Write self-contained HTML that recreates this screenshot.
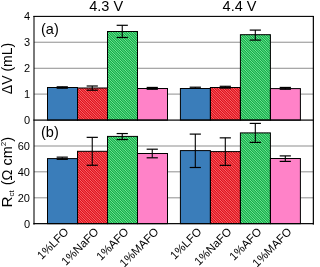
<!DOCTYPE html><html><head><meta charset="utf-8"><style>html,body{margin:0;padding:0;background:#fff;overflow:hidden}svg{display:block;will-change:transform}</style></head><body>
<svg width="315" height="267" viewBox="0 0 315 267" font-family='"Liberation Sans", sans-serif'>
<defs>
<pattern id="pBlue" patternUnits="userSpaceOnUse" width="4" height="4"><rect width="4" height="4" fill="#3a7dba"/></pattern>
<pattern id="pRed" patternUnits="userSpaceOnUse" width="1.6" height="3" patternTransform="rotate(-45)"><rect width="1.6" height="3" fill="#e0101c"/><rect width="0.65" height="3" fill="#f88888"/></pattern>
<pattern id="pGreen" patternUnits="userSpaceOnUse" width="1.6" height="3" patternTransform="rotate(-45)"><rect width="1.6" height="3" fill="#0ca442"/><rect width="0.65" height="3" fill="#7fdfa0"/></pattern>
<pattern id="pPink" patternUnits="userSpaceOnUse" width="4" height="4"><rect width="4" height="4" fill="#ff82c8"/></pattern>
</defs>
<rect width="315" height="267" fill="#fff"/>
<rect x="34" y="41.7" width="279" height="1.1" fill="#999999"/>
<rect x="34" y="67.75" width="279" height="1.1" fill="#999999"/>
<rect x="34" y="93.55" width="279" height="1.1" fill="#999999"/>
<rect x="34" y="145.45" width="279" height="1.1" fill="#999999"/>
<rect x="34" y="171.25" width="279" height="1.1" fill="#999999"/>
<rect x="34" y="197.25" width="279" height="1.1" fill="#999999"/>
<rect x="47.5" y="87.5" width="30" height="32.6" fill="#3a7dba"/>
<rect x="77.5" y="88" width="30" height="32.1" fill="#e3101c"/>
<rect x="107.5" y="31.5" width="30" height="88.6" fill="#14b34a"/>
<rect x="137.5" y="88.5" width="30" height="31.6" fill="#ff82c8"/>
<rect x="180.4" y="88.5" width="30" height="31.6" fill="#3a7dba"/>
<rect x="210.4" y="87.5" width="30" height="32.6" fill="#e3101c"/>
<rect x="240.4" y="34.7" width="30" height="85.4" fill="#14b34a"/>
<rect x="270.4" y="88.6" width="30" height="31.5" fill="#ff82c8"/>
<rect x="47.5" y="158.6" width="30" height="65.05" fill="#3a7dba"/>
<rect x="77.5" y="151.3" width="30" height="72.35" fill="#e3101c"/>
<rect x="107.5" y="136.4" width="30" height="87.25" fill="#14b34a"/>
<rect x="137.5" y="153.5" width="30" height="70.15" fill="#ff82c8"/>
<rect x="180.4" y="150.6" width="30" height="73.05" fill="#3a7dba"/>
<rect x="210.4" y="151.6" width="30" height="72.05" fill="#e3101c"/>
<rect x="240.4" y="132.9" width="30" height="90.75" fill="#14b34a"/>
<rect x="270.4" y="158.5" width="30" height="65.15" fill="#ff82c8"/>
<clipPath id="cR"><rect x="77.5" y="88" width="30" height="32.1"/><rect x="210.4" y="87.5" width="30" height="32.6"/><rect x="77.5" y="151.3" width="30" height="72.35"/><rect x="210.4" y="151.6" width="30" height="72.05"/></clipPath>
<path clip-path="url(#cR)" d="M-300.000 0L0.000 300M-297.500 0L2.500 300M-295.000 0L5.000 300M-292.500 0L7.500 300M-290.000 0L10.000 300M-287.500 0L12.500 300M-285.000 0L15.000 300M-282.500 0L17.500 300M-280.000 0L20.000 300M-277.500 0L22.500 300M-275.000 0L25.000 300M-272.500 0L27.500 300M-270.000 0L30.000 300M-267.500 0L32.500 300M-265.000 0L35.000 300M-262.500 0L37.500 300M-260.000 0L40.000 300M-257.500 0L42.500 300M-255.000 0L45.000 300M-252.500 0L47.500 300M-250.000 0L50.000 300M-247.500 0L52.500 300M-245.000 0L55.000 300M-242.500 0L57.500 300M-240.000 0L60.000 300M-237.500 0L62.500 300M-235.000 0L65.000 300M-232.500 0L67.500 300M-230.000 0L70.000 300M-227.500 0L72.500 300M-225.000 0L75.000 300M-222.500 0L77.500 300M-220.000 0L80.000 300M-217.500 0L82.500 300M-215.000 0L85.000 300M-212.500 0L87.500 300M-210.000 0L90.000 300M-207.500 0L92.500 300M-205.000 0L95.000 300M-202.500 0L97.500 300M-200.000 0L100.000 300M-197.500 0L102.500 300M-195.000 0L105.000 300M-192.500 0L107.500 300M-190.000 0L110.000 300M-187.500 0L112.500 300M-185.000 0L115.000 300M-182.500 0L117.500 300M-180.000 0L120.000 300M-177.500 0L122.500 300M-175.000 0L125.000 300M-172.500 0L127.500 300M-170.000 0L130.000 300M-167.500 0L132.500 300M-165.000 0L135.000 300M-162.500 0L137.500 300M-160.000 0L140.000 300M-157.500 0L142.500 300M-155.000 0L145.000 300M-152.500 0L147.500 300M-150.000 0L150.000 300M-147.500 0L152.500 300M-145.000 0L155.000 300M-142.500 0L157.500 300M-140.000 0L160.000 300M-137.500 0L162.500 300M-135.000 0L165.000 300M-132.500 0L167.500 300M-130.000 0L170.000 300M-127.500 0L172.500 300M-125.000 0L175.000 300M-122.500 0L177.500 300M-120.000 0L180.000 300M-117.500 0L182.500 300M-115.000 0L185.000 300M-112.500 0L187.500 300M-110.000 0L190.000 300M-107.500 0L192.500 300M-105.000 0L195.000 300M-102.500 0L197.500 300M-100.000 0L200.000 300M-97.500 0L202.500 300M-95.000 0L205.000 300M-92.500 0L207.500 300M-90.000 0L210.000 300M-87.500 0L212.500 300M-85.000 0L215.000 300M-82.500 0L217.500 300M-80.000 0L220.000 300M-77.500 0L222.500 300M-75.000 0L225.000 300M-72.500 0L227.500 300M-70.000 0L230.000 300M-67.500 0L232.500 300M-65.000 0L235.000 300M-62.500 0L237.500 300M-60.000 0L240.000 300M-57.500 0L242.500 300M-55.000 0L245.000 300M-52.500 0L247.500 300M-50.000 0L250.000 300M-47.500 0L252.500 300M-45.000 0L255.000 300M-42.500 0L257.500 300M-40.000 0L260.000 300M-37.500 0L262.500 300M-35.000 0L265.000 300M-32.500 0L267.500 300M-30.000 0L270.000 300M-27.500 0L272.500 300M-25.000 0L275.000 300M-22.500 0L277.500 300M-20.000 0L280.000 300M-17.500 0L282.500 300M-15.000 0L285.000 300M-12.500 0L287.500 300M-10.000 0L290.000 300M-7.500 0L292.500 300M-5.000 0L295.000 300M-2.500 0L297.500 300M0.000 0L300.000 300M2.500 0L302.500 300M5.000 0L305.000 300M7.500 0L307.500 300M10.000 0L310.000 300M12.500 0L312.500 300M15.000 0L315.000 300M17.500 0L317.500 300M20.000 0L320.000 300M22.500 0L322.500 300M25.000 0L325.000 300M27.500 0L327.500 300M30.000 0L330.000 300M32.500 0L332.500 300M35.000 0L335.000 300M37.500 0L337.500 300M40.000 0L340.000 300M42.500 0L342.500 300M45.000 0L345.000 300M47.500 0L347.500 300M50.000 0L350.000 300M52.500 0L352.500 300M55.000 0L355.000 300M57.500 0L357.500 300M60.000 0L360.000 300M62.500 0L362.500 300M65.000 0L365.000 300M67.500 0L367.500 300M70.000 0L370.000 300M72.500 0L372.500 300M75.000 0L375.000 300M77.500 0L377.500 300M80.000 0L380.000 300M82.500 0L382.500 300M85.000 0L385.000 300M87.500 0L387.500 300M90.000 0L390.000 300M92.500 0L392.500 300M95.000 0L395.000 300M97.500 0L397.500 300M100.000 0L400.000 300M102.500 0L402.500 300M105.000 0L405.000 300M107.500 0L407.500 300M110.000 0L410.000 300M112.500 0L412.500 300M115.000 0L415.000 300M117.500 0L417.500 300M120.000 0L420.000 300M122.500 0L422.500 300M125.000 0L425.000 300M127.500 0L427.500 300M130.000 0L430.000 300M132.500 0L432.500 300M135.000 0L435.000 300M137.500 0L437.500 300M140.000 0L440.000 300M142.500 0L442.500 300M145.000 0L445.000 300M147.500 0L447.500 300M150.000 0L450.000 300M152.500 0L452.500 300M155.000 0L455.000 300M157.500 0L457.500 300M160.000 0L460.000 300M162.500 0L462.500 300M165.000 0L465.000 300M167.500 0L467.500 300M170.000 0L470.000 300M172.500 0L472.500 300M175.000 0L475.000 300M177.500 0L477.500 300M180.000 0L480.000 300M182.500 0L482.500 300M185.000 0L485.000 300M187.500 0L487.500 300M190.000 0L490.000 300M192.500 0L492.500 300M195.000 0L495.000 300M197.500 0L497.500 300M200.000 0L500.000 300M202.500 0L502.500 300M205.000 0L505.000 300M207.500 0L507.500 300M210.000 0L510.000 300M212.500 0L512.500 300M215.000 0L515.000 300M217.500 0L517.500 300M220.000 0L520.000 300M222.500 0L522.500 300M225.000 0L525.000 300M227.500 0L527.500 300M230.000 0L530.000 300M232.500 0L532.500 300M235.000 0L535.000 300M237.500 0L537.500 300M240.000 0L540.000 300M242.500 0L542.500 300M245.000 0L545.000 300M247.500 0L547.500 300M250.000 0L550.000 300M252.500 0L552.500 300M255.000 0L555.000 300M257.500 0L557.500 300M260.000 0L560.000 300M262.500 0L562.500 300M265.000 0L565.000 300M267.500 0L567.500 300M270.000 0L570.000 300M272.500 0L572.500 300M275.000 0L575.000 300M277.500 0L577.500 300M280.000 0L580.000 300M282.500 0L582.500 300M285.000 0L585.000 300M287.500 0L587.500 300M290.000 0L590.000 300M292.500 0L592.500 300M295.000 0L595.000 300M297.500 0L597.500 300M300.000 0L600.000 300M302.500 0L602.500 300M305.000 0L605.000 300M307.500 0L607.500 300M310.000 0L610.000 300M312.500 0L612.500 300M315.000 0L615.000 300M317.500 0L617.500 300M320.000 0L620.000 300M322.500 0L622.500 300M325.000 0L625.000 300M327.500 0L627.500 300" stroke="#f78282" stroke-width="0.8" fill="none"/>
<clipPath id="cG"><rect x="107.5" y="31.5" width="30" height="88.6"/><rect x="240.4" y="34.7" width="30" height="85.4"/><rect x="107.5" y="136.4" width="30" height="87.25"/><rect x="240.4" y="132.9" width="30" height="90.75"/></clipPath>
<path clip-path="url(#cG)" d="M-300.000 0L0.000 300M-297.500 0L2.500 300M-295.000 0L5.000 300M-292.500 0L7.500 300M-290.000 0L10.000 300M-287.500 0L12.500 300M-285.000 0L15.000 300M-282.500 0L17.500 300M-280.000 0L20.000 300M-277.500 0L22.500 300M-275.000 0L25.000 300M-272.500 0L27.500 300M-270.000 0L30.000 300M-267.500 0L32.500 300M-265.000 0L35.000 300M-262.500 0L37.500 300M-260.000 0L40.000 300M-257.500 0L42.500 300M-255.000 0L45.000 300M-252.500 0L47.500 300M-250.000 0L50.000 300M-247.500 0L52.500 300M-245.000 0L55.000 300M-242.500 0L57.500 300M-240.000 0L60.000 300M-237.500 0L62.500 300M-235.000 0L65.000 300M-232.500 0L67.500 300M-230.000 0L70.000 300M-227.500 0L72.500 300M-225.000 0L75.000 300M-222.500 0L77.500 300M-220.000 0L80.000 300M-217.500 0L82.500 300M-215.000 0L85.000 300M-212.500 0L87.500 300M-210.000 0L90.000 300M-207.500 0L92.500 300M-205.000 0L95.000 300M-202.500 0L97.500 300M-200.000 0L100.000 300M-197.500 0L102.500 300M-195.000 0L105.000 300M-192.500 0L107.500 300M-190.000 0L110.000 300M-187.500 0L112.500 300M-185.000 0L115.000 300M-182.500 0L117.500 300M-180.000 0L120.000 300M-177.500 0L122.500 300M-175.000 0L125.000 300M-172.500 0L127.500 300M-170.000 0L130.000 300M-167.500 0L132.500 300M-165.000 0L135.000 300M-162.500 0L137.500 300M-160.000 0L140.000 300M-157.500 0L142.500 300M-155.000 0L145.000 300M-152.500 0L147.500 300M-150.000 0L150.000 300M-147.500 0L152.500 300M-145.000 0L155.000 300M-142.500 0L157.500 300M-140.000 0L160.000 300M-137.500 0L162.500 300M-135.000 0L165.000 300M-132.500 0L167.500 300M-130.000 0L170.000 300M-127.500 0L172.500 300M-125.000 0L175.000 300M-122.500 0L177.500 300M-120.000 0L180.000 300M-117.500 0L182.500 300M-115.000 0L185.000 300M-112.500 0L187.500 300M-110.000 0L190.000 300M-107.500 0L192.500 300M-105.000 0L195.000 300M-102.500 0L197.500 300M-100.000 0L200.000 300M-97.500 0L202.500 300M-95.000 0L205.000 300M-92.500 0L207.500 300M-90.000 0L210.000 300M-87.500 0L212.500 300M-85.000 0L215.000 300M-82.500 0L217.500 300M-80.000 0L220.000 300M-77.500 0L222.500 300M-75.000 0L225.000 300M-72.500 0L227.500 300M-70.000 0L230.000 300M-67.500 0L232.500 300M-65.000 0L235.000 300M-62.500 0L237.500 300M-60.000 0L240.000 300M-57.500 0L242.500 300M-55.000 0L245.000 300M-52.500 0L247.500 300M-50.000 0L250.000 300M-47.500 0L252.500 300M-45.000 0L255.000 300M-42.500 0L257.500 300M-40.000 0L260.000 300M-37.500 0L262.500 300M-35.000 0L265.000 300M-32.500 0L267.500 300M-30.000 0L270.000 300M-27.500 0L272.500 300M-25.000 0L275.000 300M-22.500 0L277.500 300M-20.000 0L280.000 300M-17.500 0L282.500 300M-15.000 0L285.000 300M-12.500 0L287.500 300M-10.000 0L290.000 300M-7.500 0L292.500 300M-5.000 0L295.000 300M-2.500 0L297.500 300M0.000 0L300.000 300M2.500 0L302.500 300M5.000 0L305.000 300M7.500 0L307.500 300M10.000 0L310.000 300M12.500 0L312.500 300M15.000 0L315.000 300M17.500 0L317.500 300M20.000 0L320.000 300M22.500 0L322.500 300M25.000 0L325.000 300M27.500 0L327.500 300M30.000 0L330.000 300M32.500 0L332.500 300M35.000 0L335.000 300M37.500 0L337.500 300M40.000 0L340.000 300M42.500 0L342.500 300M45.000 0L345.000 300M47.500 0L347.500 300M50.000 0L350.000 300M52.500 0L352.500 300M55.000 0L355.000 300M57.500 0L357.500 300M60.000 0L360.000 300M62.500 0L362.500 300M65.000 0L365.000 300M67.500 0L367.500 300M70.000 0L370.000 300M72.500 0L372.500 300M75.000 0L375.000 300M77.500 0L377.500 300M80.000 0L380.000 300M82.500 0L382.500 300M85.000 0L385.000 300M87.500 0L387.500 300M90.000 0L390.000 300M92.500 0L392.500 300M95.000 0L395.000 300M97.500 0L397.500 300M100.000 0L400.000 300M102.500 0L402.500 300M105.000 0L405.000 300M107.500 0L407.500 300M110.000 0L410.000 300M112.500 0L412.500 300M115.000 0L415.000 300M117.500 0L417.500 300M120.000 0L420.000 300M122.500 0L422.500 300M125.000 0L425.000 300M127.500 0L427.500 300M130.000 0L430.000 300M132.500 0L432.500 300M135.000 0L435.000 300M137.500 0L437.500 300M140.000 0L440.000 300M142.500 0L442.500 300M145.000 0L445.000 300M147.500 0L447.500 300M150.000 0L450.000 300M152.500 0L452.500 300M155.000 0L455.000 300M157.500 0L457.500 300M160.000 0L460.000 300M162.500 0L462.500 300M165.000 0L465.000 300M167.500 0L467.500 300M170.000 0L470.000 300M172.500 0L472.500 300M175.000 0L475.000 300M177.500 0L477.500 300M180.000 0L480.000 300M182.500 0L482.500 300M185.000 0L485.000 300M187.500 0L487.500 300M190.000 0L490.000 300M192.500 0L492.500 300M195.000 0L495.000 300M197.500 0L497.500 300M200.000 0L500.000 300M202.500 0L502.500 300M205.000 0L505.000 300M207.500 0L507.500 300M210.000 0L510.000 300M212.500 0L512.500 300M215.000 0L515.000 300M217.500 0L517.500 300M220.000 0L520.000 300M222.500 0L522.500 300M225.000 0L525.000 300M227.500 0L527.500 300M230.000 0L530.000 300M232.500 0L532.500 300M235.000 0L535.000 300M237.500 0L537.500 300M240.000 0L540.000 300M242.500 0L542.500 300M245.000 0L545.000 300M247.500 0L547.500 300M250.000 0L550.000 300M252.500 0L552.500 300M255.000 0L555.000 300M257.500 0L557.500 300M260.000 0L560.000 300M262.500 0L562.500 300M265.000 0L565.000 300M267.500 0L567.500 300M270.000 0L570.000 300M272.500 0L572.500 300M275.000 0L575.000 300M277.500 0L577.500 300M280.000 0L580.000 300M282.500 0L582.500 300M285.000 0L585.000 300M287.500 0L587.500 300M290.000 0L590.000 300M292.500 0L592.500 300M295.000 0L595.000 300M297.500 0L597.500 300M300.000 0L600.000 300M302.500 0L602.500 300M305.000 0L605.000 300M307.500 0L607.500 300M310.000 0L610.000 300M312.500 0L612.500 300M315.000 0L615.000 300M317.500 0L617.500 300M320.000 0L620.000 300M322.500 0L622.500 300M325.000 0L625.000 300M327.500 0L627.500 300" stroke="#8ce8aa" stroke-width="0.8" fill="none"/>
<rect x="47.5" y="87.5" width="30" height="32.6" fill="none" stroke="#000" stroke-width="1"/>
<rect x="77.5" y="88" width="30" height="32.1" fill="none" stroke="#000" stroke-width="1"/>
<rect x="107.5" y="31.5" width="30" height="88.6" fill="none" stroke="#000" stroke-width="1"/>
<rect x="137.5" y="88.5" width="30" height="31.6" fill="none" stroke="#000" stroke-width="1"/>
<rect x="180.4" y="88.5" width="30" height="31.6" fill="none" stroke="#000" stroke-width="1"/>
<rect x="210.4" y="87.5" width="30" height="32.6" fill="none" stroke="#000" stroke-width="1"/>
<rect x="240.4" y="34.7" width="30" height="85.4" fill="none" stroke="#000" stroke-width="1"/>
<rect x="270.4" y="88.6" width="30" height="31.5" fill="none" stroke="#000" stroke-width="1"/>
<rect x="47.5" y="158.6" width="30" height="65.05" fill="none" stroke="#000" stroke-width="1"/>
<rect x="77.5" y="151.3" width="30" height="72.35" fill="none" stroke="#000" stroke-width="1"/>
<rect x="107.5" y="136.4" width="30" height="87.25" fill="none" stroke="#000" stroke-width="1"/>
<rect x="137.5" y="153.5" width="30" height="70.15" fill="none" stroke="#000" stroke-width="1"/>
<rect x="180.4" y="150.6" width="30" height="73.05" fill="none" stroke="#000" stroke-width="1"/>
<rect x="210.4" y="151.6" width="30" height="72.05" fill="none" stroke="#000" stroke-width="1"/>
<rect x="240.4" y="132.9" width="30" height="90.75" fill="none" stroke="#000" stroke-width="1"/>
<rect x="270.4" y="158.5" width="30" height="65.15" fill="none" stroke="#000" stroke-width="1"/>
<g stroke="#000" stroke-width="1.2"><line stroke-width="1.1" x1="62.25" y1="86.8" x2="62.25" y2="88.2"/><line x1="56.65" y1="86.8" x2="67.85" y2="86.8"/><line x1="56.65" y1="88.2" x2="67.85" y2="88.2"/></g>
<g stroke="#000" stroke-width="1.2"><line stroke-width="1.1" x1="92.25" y1="86" x2="92.25" y2="90.2"/><line x1="86.65" y1="86" x2="97.85" y2="86"/><line x1="86.65" y1="90.2" x2="97.85" y2="90.2"/></g>
<g stroke="#000" stroke-width="1.2"><line stroke-width="1.1" x1="122.25" y1="25.3" x2="122.25" y2="37.5"/><line x1="116.65" y1="25.3" x2="127.85" y2="25.3"/><line x1="116.65" y1="37.5" x2="127.85" y2="37.5"/></g>
<g stroke="#000" stroke-width="1.2"><line stroke-width="1.1" x1="152.25" y1="87.45" x2="152.25" y2="89.25"/><line x1="146.65" y1="87.45" x2="157.85" y2="87.45"/><line x1="146.65" y1="89.25" x2="157.85" y2="89.25"/></g>
<g stroke="#000" stroke-width="1.2"><line stroke-width="1.1" x1="195.3" y1="87.2" x2="195.3" y2="88.4"/><line x1="189.7" y1="87.2" x2="200.9" y2="87.2"/><line x1="189.7" y1="88.4" x2="200.9" y2="88.4"/></g>
<g stroke="#000" stroke-width="1.2"><line stroke-width="1.1" x1="225.3" y1="86.3" x2="225.3" y2="88.1"/><line x1="219.7" y1="86.3" x2="230.9" y2="86.3"/><line x1="219.7" y1="88.1" x2="230.9" y2="88.1"/></g>
<g stroke="#000" stroke-width="1.2"><line stroke-width="1.1" x1="255.3" y1="30.1" x2="255.3" y2="40.1"/><line x1="249.7" y1="30.1" x2="260.9" y2="30.1"/><line x1="249.7" y1="40.1" x2="260.9" y2="40.1"/></g>
<g stroke="#000" stroke-width="1.2"><line stroke-width="1.1" x1="285.3" y1="87.45" x2="285.3" y2="89.25"/><line x1="279.7" y1="87.45" x2="290.9" y2="87.45"/><line x1="279.7" y1="89.25" x2="290.9" y2="89.25"/></g>
<g stroke="#000" stroke-width="1.2"><line stroke-width="1.1" x1="62.25" y1="157.15" x2="62.25" y2="159.35"/><line x1="56.65" y1="157.15" x2="67.85" y2="157.15"/><line x1="56.65" y1="159.35" x2="67.85" y2="159.35"/></g>
<g stroke="#000" stroke-width="1.2"><line stroke-width="1.1" x1="92.25" y1="137.35" x2="92.25" y2="165.25"/><line x1="86.65" y1="137.35" x2="97.85" y2="137.35"/><line x1="86.65" y1="165.25" x2="97.85" y2="165.25"/></g>
<g stroke="#000" stroke-width="1.2"><line stroke-width="1.1" x1="122.25" y1="133.55" x2="122.25" y2="139.55"/><line x1="116.65" y1="133.55" x2="127.85" y2="133.55"/><line x1="116.65" y1="139.55" x2="127.85" y2="139.55"/></g>
<g stroke="#000" stroke-width="1.2"><line stroke-width="1.1" x1="152.25" y1="149.2" x2="152.25" y2="157.8"/><line x1="146.65" y1="149.2" x2="157.85" y2="149.2"/><line x1="146.65" y1="157.8" x2="157.85" y2="157.8"/></g>
<g stroke="#000" stroke-width="1.2"><line stroke-width="1.1" x1="195.3" y1="134.1" x2="195.3" y2="167.5"/><line x1="189.7" y1="134.1" x2="200.9" y2="134.1"/><line x1="189.7" y1="167.5" x2="200.9" y2="167.5"/></g>
<g stroke="#000" stroke-width="1.2"><line stroke-width="1.1" x1="225.3" y1="137.85" x2="225.3" y2="165.35"/><line x1="219.7" y1="137.85" x2="230.9" y2="137.85"/><line x1="219.7" y1="165.35" x2="230.9" y2="165.35"/></g>
<g stroke="#000" stroke-width="1.2"><line stroke-width="1.1" x1="255.3" y1="123.4" x2="255.3" y2="142.4"/><line x1="249.7" y1="123.4" x2="260.9" y2="123.4"/><line x1="249.7" y1="142.4" x2="260.9" y2="142.4"/></g>
<g stroke="#000" stroke-width="1.2"><line stroke-width="1.1" x1="285.3" y1="155.9" x2="285.3" y2="161.4"/><line x1="279.7" y1="155.9" x2="290.9" y2="155.9"/><line x1="279.7" y1="161.4" x2="290.9" y2="161.4"/></g>
<rect x="33.35" y="15.85" width="280.3" height="1.1" fill="#000"/>
<rect x="33.35" y="119.5" width="280.3" height="1.2" fill="#000"/>
<rect x="33.35" y="223.05" width="280.3" height="1.2" fill="#000"/>
<rect x="33.475" y="16" width="1.05" height="208.6" fill="#000"/>
<rect x="312.75" y="16" width="1.2" height="208.6" fill="#000"/>
<text x="106.15" y="11" font-size="14.5" text-anchor="middle">4.3 V</text>
<text x="239.5" y="11" font-size="14.5" text-anchor="middle">4.4 V</text>
<text x="30" y="19.6" font-size="11" text-anchor="end">4</text>
<text x="30" y="45.6" font-size="11" text-anchor="end">3</text>
<text x="30" y="71.6" font-size="11" text-anchor="end">2</text>
<text x="30" y="97.6" font-size="11" text-anchor="end">1</text>
<text x="30" y="123.6" font-size="11" text-anchor="end">0</text>
<text x="30" y="150" font-size="11" text-anchor="end">60</text>
<text x="30" y="176" font-size="11" text-anchor="end">40</text>
<text x="30" y="202" font-size="11" text-anchor="end">20</text>
<text x="30" y="228" font-size="11" text-anchor="end">0</text>
<text x="41" y="33.7" font-size="14.5">(a)</text>
<text x="41" y="136.9" font-size="14.5">(b)</text>
<text transform="translate(12,68.5) rotate(-90)" font-size="14" text-anchor="middle">&#916;V (mL)</text>
<text transform="translate(11.7,207.6) rotate(-90)" font-size="15.3">R<tspan font-size="8" dy="2.2">ct</tspan><tspan dy="-2.2" dx="1" font-size="14.5"> (&#937; cm</tspan><tspan font-size="8" dy="-5.5">2</tspan><tspan font-size="14.5" dy="5.5">)</tspan></text>
<text transform="translate(69.45,232.5) rotate(-45)" font-size="11.5" text-anchor="end">1%LFO</text>
<text transform="translate(99.45,232.5) rotate(-45)" font-size="11.5" text-anchor="end">1%NaFO</text>
<text transform="translate(129.45,232.5) rotate(-45)" font-size="11.5" text-anchor="end">1%AFO</text>
<text transform="translate(159.45,232.5) rotate(-45)" font-size="11.5" text-anchor="end">1%MAFO</text>
<text transform="translate(202.35,232.5) rotate(-45)" font-size="11.5" text-anchor="end">1%LFO</text>
<text transform="translate(232.35,232.5) rotate(-45)" font-size="11.5" text-anchor="end">1%NaFO</text>
<text transform="translate(262.35,232.5) rotate(-45)" font-size="11.5" text-anchor="end">1%AFO</text>
<text transform="translate(292.35,232.5) rotate(-45)" font-size="11.5" text-anchor="end">1%MAFO</text>
</svg></body></html>
